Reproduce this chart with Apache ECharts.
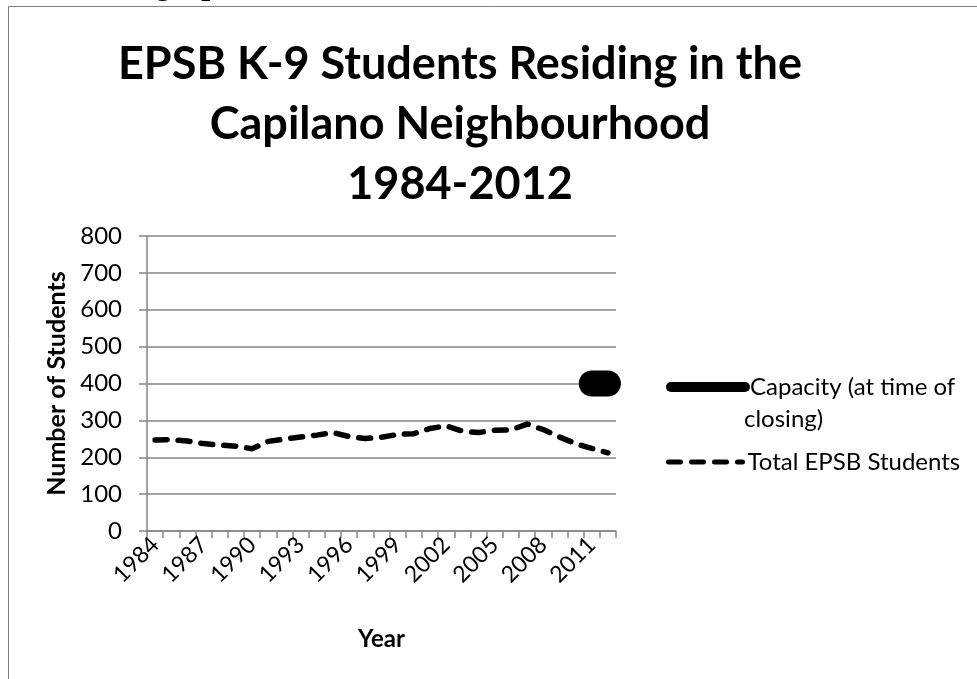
<!DOCTYPE html>
<html>
<head>
<meta charset="utf-8">
<title>EPSB K-9 Students - Capilano</title>
<script src="https://cdn.jsdelivr.net/npm/echarts@6/dist/echarts.min.js"></script>
<style>
  html, body { margin: 0; padding: 0; background: #fff; }
  #chart { width: 977px; height: 679px; }
</style>
</head>
<body>
<div id="chart"></div>
<script>
// years 1984 - 2012
const years = [
  '1984', '1985', '1986', '1987', '1988', '1989', '1990', '1991', '1992', '1993',
  '1994', '1995', '1996', '1997', '1998', '1999', '2000', '2001', '2002', '2003',
  '2004', '2005', '2006', '2007', '2008', '2009', '2010', '2011', '2012',
]

// values
const totalStudents = [
  247, 248, 244, 237, 233, 230, 223, 243, 249, 255,
  260, 267, 256, 251, 254, 262, 264, 278, 285, 271,
  267, 273, 274, 290, 275, 255, 237, 224, 212,
]

// capacity only shown for the last two years
const capacity = [
  null, null, null, null, null, null, null, null, null, null,
  null, null, null, null, null, null, null, null, null, null,
  null, null, null, null, null, null, null, 400, 400,
]

const yTicks = { min: 0, max: 800, step: 100 }

const FONT = 'Lato, "Open Sans", sans-serif'
const AXIS_GREY = '#868686'
const LEGEND_FONT = 24

const chart = echarts.init(document.getElementById('chart'))

const legendText = {
  fontFamily: FONT,
  fontSize: LEGEND_FONT,
  color: '#000',
  lineHeight: 30,
}

chart.setOption({
  animation: false,
  title: {
    text: 'EPSB K-9 Students Residing in the\nCapilano Neighbourhood\n1984-2012',
    left: 455,
    top: 29,
    textAlign: 'center',
    textStyle: {
      fontFamily: FONT,
      fontSize: 45,
      fontWeight: 'bold',
      color: '#000',
      lineHeight: 60,
    },
  },
  graphic: [
    // page frame
    {
      type: 'rect',
      shape: { x: 8.5, y: 6.5, width: 1200, height: 1200 },
      style: { fill: 'none', stroke: '#808080', lineWidth: 1 },
      silent: true,
    },
    // heading of the page above, cut off
    {
      type: 'text',
      left: 75,
      top: -30,
      style: {
        text: 'Demographic Information',
        font: 'bold 32px "Liberation Serif", serif',
        fill: '#000',
      },
      silent: true,
    },
    // second line of the capacity legend entry
    {
      type: 'text',
      left: 744,
      top: 407,
      style: {
        text: 'closing)',
        font: LEGEND_FONT + 'px ' + FONT,
        fill: '#000',
      },
      silent: true,
    },
  ],
  legend: [
    {
      orient: 'vertical',
      left: 661,
      top: 367,
      itemWidth: 74,
      itemHeight: 14,
      itemStyle: { opacity: 0 },
      data: [{ name: 'Capacity', lineStyle: { width: 10 } }],
      formatter: () => 'Capacity (at time of',
      textStyle: legendText,
    },
    {
      orient: 'vertical',
      left: 661,
      top: 442,
      itemWidth: 74,
      itemHeight: 14,
      itemStyle: { opacity: 0 },
      data: [{ name: 'Total EPSB Students', lineStyle: { width: 5 } }],
      textStyle: legendText,
    },
  ],
  grid: { left: 147, right: 361, top: 236, bottom: 148 },
  xAxis: {
    type: 'category',
    data: years,
    boundaryGap: true,
    name: 'Year',
    nameLocation: 'middle',
    nameGap: 96,
    nameTextStyle: { fontFamily: FONT, fontSize: 24, fontWeight: 'bold', color: '#000' },
    axisLine: { lineStyle: { color: AXIS_GREY, width: 1.5 } },
    axisTick: { show: true, interval: 0, length: 7, lineStyle: { color: AXIS_GREY, width: 1.5 } },
    axisLabel: {
      interval: 2,
      rotate: 45,
      margin: 10,
      fontFamily: FONT,
      fontSize: 23,
      color: '#000',
    },
  },
  yAxis: {
    type: 'value',
    min: yTicks.min,
    max: yTicks.max,
    interval: yTicks.step,
    name: 'Number of Students',
    nameLocation: 'middle',
    nameGap: 78,
    nameRotate: 90,
    nameTextStyle: { fontFamily: FONT, fontSize: 25, fontWeight: 'bold', color: '#000' },
    axisLine: { show: true, lineStyle: { color: AXIS_GREY, width: 1.5 } },
    axisTick: { show: true, length: 8, lineStyle: { color: AXIS_GREY, width: 1.5 } },
    axisLabel: { margin: 25, fontFamily: FONT, fontSize: 24, color: '#000' },
    splitLine: { lineStyle: { color: AXIS_GREY, width: 1.5 } },
  },
  series: [
    {
      name: 'Capacity',
      type: 'line',
      data: capacity,
      symbol: 'none',
      clip: false,
      connectNulls: false,
      lineStyle: { color: '#000', width: 26, cap: 'round', join: 'round' },
      itemStyle: { color: '#000' },
    },
    {
      name: 'Total EPSB Students',
      type: 'line',
      data: totalStudents,
      symbol: 'none',
      lineStyle: { color: '#000', width: 5.5, type: [12, 11], cap: 'round', join: 'round' },
      itemStyle: { color: '#000' },
    },
  ],
})
</script>
</body>
</html>
